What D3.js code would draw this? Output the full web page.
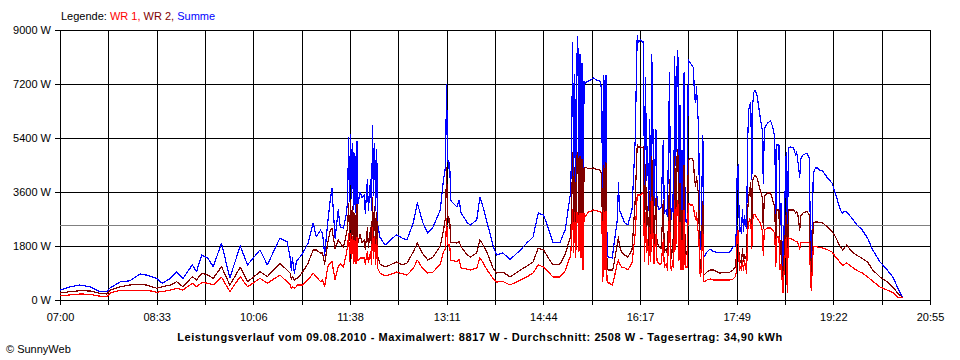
<!doctype html>
<html lang="de">
<head>
	<meta charset="UTF-8">
	<title>Leistungsverlauf 09.08.2010</title>
	<script src="https://d3js.org/d3.v7.min.js"></script>
	<style>
		body { margin: 0; background: #fff; }
		svg { display: block; font-family: 'Liberation Sans', Arial, sans-serif; font-size: 11px; }
	</style>
</head>
<body>
	<div id="chart"></div>
	<script>
		// minutes after 07:00, one entry per sample
		var minutes = [
			0, 10, 19, 29, 38, 45, 48, 58, 67, 77, 83, 93, 98, 106, 112, 118, 127, 131, 136, 142,
			147, 155, 163, 173, 180, 192, 199, 211, 218, 221, 222, 223, 225, 227, 228, 233, 238, 243, 246, 250,
			252, 254, 257, 259, 261, 264, 267, 269, 272, 275, 276, 277, 278, 279, 280, 281, 282, 283, 284, 285,
			286, 288, 290, 292, 293, 295, 296, 298, 299, 300, 301, 302, 303, 304, 305, 307, 312, 317, 323, 328,
			333, 339, 343, 348, 353, 358, 365, 368, 370, 371, 372, 373, 374, 375, 376, 381, 383, 385, 391, 394,
			400, 403, 405, 410, 416, 419, 425, 432, 442, 448, 454, 459, 464, 467, 473, 480, 485, 488, 490, 491,
			492, 493, 494, 495, 496, 497, 498, 499, 500, 501, 502, 503, 504, 507, 509, 512, 515, 518, 519, 520,
			521, 522, 523, 524, 525, 526, 527, 530, 531, 535, 536, 537, 539, 542, 545, 549, 552, 554, 555, 557,
			559, 560, 561, 562, 563, 564, 565, 566, 567, 568, 569, 570, 571, 572, 573, 575, 577, 579, 580, 582,
			583, 585, 586, 587, 588, 589, 590, 591, 592, 593, 594, 595, 596, 597, 598, 599, 600, 601, 602, 603,
			605, 607, 608, 609, 610, 611, 612, 613, 614, 615, 617, 618, 621, 624, 627, 633, 643, 646, 648, 649,
			650, 651, 652, 653, 654, 655, 656, 657, 658, 659, 660, 661, 662, 663, 664, 665, 666, 667, 669, 672,
			674, 675, 676, 679, 682, 684, 686, 687, 688, 690, 691, 692, 693, 694, 695, 697, 698, 699, 701, 704,
			706, 707, 708, 710, 711, 713, 717, 719, 721, 723, 725, 727, 729, 732, 736, 737, 741, 744, 747, 749,
			751, 752, 755, 760, 765, 768, 770, 775, 780, 787, 794, 800, 804, 809
		]

		// Summe (W)
		var summe = [
			330, 440, 500, 440, 280, 280, 400, 610, 640, 870, 830, 720, 560, 720, 940, 720, 1170, 940, 1500, 1390,
			1110, 1890, 740, 1800, 1170, 1670, 1170, 2060, 1940, 1390, 1000, 1400, 890, 1300, 1330, 1560, 1890, 2560, 2110, 2330,
			2230, 1500, 2600, 3230, 3720, 2060, 3000, 2430, 2400, 2900, 3300, 5400, 3300, 5500, 3400, 5200, 3000, 4900, 2900, 5300,
			3200, 3600, 3400, 3500, 2900, 4000, 3000, 4000, 3000, 5800, 3500, 5200, 3000, 5000, 2500, 2100, 1830, 2000, 2170, 2070,
			2000, 2570, 3230, 2600, 2230, 2430, 3000, 4000, 4430, 7170, 4770, 4400, 4570, 3330, 3270, 3100, 3330, 2900, 2570, 2500,
			2670, 3430, 3230, 2570, 1770, 1500, 1570, 1350, 1670, 1900, 2100, 2900, 2830, 2570, 1930, 1930, 2350, 3100, 3570, 4900,
			8570, 3800, 7500, 3500, 8000, 8770, 4000, 8200, 3200, 7900, 2300, 7300, 7230, 7300, 7330, 7400, 7330, 7300, 7200, 6900,
			1400, 7500, 2500, 7500, 1770, 1430, 1430, 1400, 1670, 2700, 3900, 3000, 2830, 2570, 2500, 3000, 5300, 8830, 8570, 8670,
			8600, 8600, 3500, 7400, 4000, 5100, 3000, 6000, 3300, 8170, 5900, 3100, 4500, 5670, 3230, 3000, 3100, 5330, 2900, 3000,
			2770, 7570, 2900, 2670, 3500, 2800, 8100, 4500, 7600, 8330, 3200, 6500, 2900, 5000, 2670, 7570, 2600, 2700, 2570, 8000,
			7900, 7800, 7730, 6770, 6570, 7100, 6230, 5770, 1770, 1670, 5500, 1430, 1600, 1700, 1620, 1570, 1600, 1770, 1800, 2230,
			4330, 4500, 2300, 2400, 2230, 3000, 2300, 2800, 2500, 2400, 5330, 6330, 6500, 6570, 4000, 6570, 6930, 7000, 6830, 6100,
			5670, 3900, 5700, 5900, 5970, 5770, 5430, 2770, 5170, 5170, 2500, 3230, 1770, 570, 2500, 4930, 570, 5070, 5100, 5080,
			4830, 4950, 4670, 4100, 4700, 4830, 4900, 4730, 900, 4230, 4400, 4400, 4330, 4300, 4100, 4050, 3900, 3570, 3230, 3000,
			2900, 2950, 2930, 2730, 2500, 2400, 2330, 2070, 1670, 1270, 1000, 730, 400, 70
		]

		// WR 2 (W)
		var wr2 = [
			230, 280, 310, 300, 220, 200, 330, 440, 500, 520, 500, 390, 440, 500, 610, 440, 780, 670, 890, 830,
			720, 1110, 500, 1090, 610, 940, 780, 1220, 1000, 890, 700, 780, 670, 720, 720, 940, 1220, 1670, 1670, 1560,
			1570, 1200, 1900, 2280, 2390, 1720, 2000, 1900, 1750, 2230, 2400, 3200, 2000, 3300, 2000, 3100, 1800, 2900, 1700, 3200,
			1900, 2200, 1900, 2000, 1700, 2400, 1750, 2400, 1700, 3400, 2000, 3100, 1700, 2900, 1450, 1200, 1100, 1170, 1270, 1170,
			1230, 1600, 1900, 1550, 1330, 1430, 1800, 2300, 2770, 4400, 2900, 2600, 2700, 1930, 1930, 1900, 1950, 1770, 1500, 1430,
			1570, 2000, 1900, 1570, 1030, 900, 930, 770, 1000, 1130, 1270, 1730, 1670, 1500, 1170, 1200, 1530, 1900, 2100, 2900,
			4900, 2200, 4400, 2100, 4800, 4930, 2300, 4800, 2000, 4700, 1400, 4400, 4430, 4380, 4380, 4400, 4350, 4330, 4300, 4100,
			800, 4500, 1500, 4570, 1100, 1000, 1000, 1000, 1070, 1900, 2100, 1800, 1600, 1500, 1430, 1670, 3300, 5170, 5100, 5100,
			5070, 5100, 2100, 4500, 2400, 3100, 1800, 3600, 2000, 4770, 3600, 1700, 2700, 3400, 1900, 1800, 1700, 3300, 1600, 1700,
			1500, 4000, 1500, 1400, 2000, 1600, 4770, 2700, 4700, 5000, 2000, 3900, 1700, 3000, 1500, 4500, 1500, 1600, 1500, 4670,
			4730, 4700, 4600, 4000, 3800, 4100, 3700, 3570, 1000, 1000, 3300, 830, 930, 1000, 1000, 900, 930, 1000, 1100, 1400,
			2100, 2200, 1200, 1300, 1200, 1700, 1300, 1500, 1400, 1500, 3000, 3430, 3700, 3930, 2300, 4000, 4100, 4150, 4070, 3670,
			3430, 2400, 3450, 3570, 3570, 3330, 3100, 1700, 3000, 3000, 1500, 2000, 1000, 330, 1500, 2900, 330, 3000, 3000, 3000,
			2900, 2950, 2900, 2330, 2800, 2900, 2950, 2850, 500, 2570, 2600, 2600, 2580, 2570, 2450, 2430, 2280, 2130, 1900, 1780,
			1670, 1700, 1830, 1620, 1480, 1430, 1380, 1270, 1000, 770, 600, 400, 230, 70
		]

		// WR 1 (W)
		var wr1 = [
			140, 170, 200, 190, 130, 110, 230, 330, 310, 330, 330, 260, 280, 330, 390, 330, 560, 440, 580, 560,
			500, 760, 280, 780, 440, 720, 560, 830, 610, 500, 400, 440, 390, 450, 500, 500, 670, 890, 780, 610,
			670, 450, 1100, 1220, 1280, 670, 1110, 1200, 1100, 1570, 1800, 2200, 1300, 2200, 1400, 2100, 1200, 2000, 1200, 2100,
			1300, 1400, 1400, 1400, 1200, 1600, 1250, 1600, 1200, 2400, 1400, 2100, 1200, 2000, 1050, 900, 800, 850, 930, 880,
			830, 1050, 1330, 1050, 900, 930, 1200, 1600, 1700, 2700, 1900, 1800, 1850, 1330, 1330, 1270, 1350, 1070, 1030, 1000,
			1070, 1400, 1300, 1000, 700, 600, 620, 500, 670, 770, 900, 1170, 1100, 1000, 770, 770, 980, 1300, 1450, 2000,
			3000, 1600, 2900, 1430, 2900, 2930, 1600, 2900, 1400, 2900, 1000, 2900, 2770, 2930, 2950, 3000, 2970, 2950, 2930, 2900,
			600, 3000, 1000, 2950, 650, 570, 570, 500, 600, 1230, 1330, 1200, 1100, 1070, 1000, 1230, 2200, 3500, 3500, 3500,
			3570, 3500, 1300, 2900, 1600, 2000, 1200, 2400, 1300, 3400, 2300, 1200, 1800, 2200, 1300, 1200, 1200, 2000, 1100, 1200,
			1000, 3000, 1100, 1000, 1300, 1100, 3330, 1700, 3000, 3300, 1300, 2600, 1000, 2000, 1000, 3000, 1100, 1100, 1070, 3230,
			3170, 3170, 3100, 2830, 2700, 2900, 2330, 2330, 900, 800, 2300, 600, 670, 700, 670, 670, 670, 700, 770, 900,
			2330, 2300, 1000, 1100, 1000, 1300, 1000, 1300, 1100, 900, 2300, 2570, 2700, 2670, 1700, 2700, 2850, 2850, 2730, 2570,
			2330, 1500, 2330, 2400, 2400, 2330, 2230, 1100, 2100, 2100, 1000, 1200, 700, 240, 1000, 2070, 240, 2070, 2050, 2000,
			1950, 1950, 1930, 1700, 1900, 1930, 1930, 1900, 330, 1770, 1780, 1770, 1750, 1730, 1680, 1670, 1600, 1450, 1330, 1230,
			1170, 1170, 1230, 1100, 980, 930, 900, 770, 630, 430, 330, 230, 100, 70
		]

		var yTicks = [0, 1800, 3600, 5400, 7200, 9000]
		var xLabels = ['07:00', '08:33', '10:06', '11:38', '13:11', '14:44', '16:17', '17:49', '19:22', '20:55']
		var spanMinutes = 835   // 07:00 .. 20:55
		var average = 2508
		var title = 'Leistungsverlauf vom 09.08.2010 - Maximalwert: 8817 W - Durchschnitt: 2508 W - Tagesertrag: 34,90 kWh'

		var w = 960
		var h = 360
		var plotLeft = 60, plotRight = 930, plotTop = 30, plotBottom = 300

		var svg = d3.select('#chart')
			.append('svg')
			.attr('width', w)
			.attr('height', h)
			.attr('shape-rendering', 'crispEdges')

		var x = d3.scaleLinear().domain([0, spanMinutes]).range([plotLeft, plotRight])
		var y = d3.scaleLinear().domain([0, 9000]).range([plotBottom, plotTop])

		// 18 grid columns, every second one labelled
		var gridMinutes = d3.range(19).map(function (i) { return i * spanMinutes / 18 })

		/* ---------------------------------- grid ---------------------------------- */
		svg.append('g')
			.selectAll('line')
			.data(yTicks)
			.join('line')
			.attr('x1', plotLeft)
			.attr('x2', plotRight)
			.attr('y1', function (d) { return Math.round(y(d)) + 0.5 })
			.attr('y2', function (d) { return Math.round(y(d)) + 0.5 })
			.attr('stroke', '#000')

		svg.append('g')
			.selectAll('line')
			.data(gridMinutes)
			.join('line')
			.attr('x1', function (d) { return Math.round(x(d)) + 0.5 })
			.attr('x2', function (d) { return Math.round(x(d)) + 0.5 })
			.attr('y1', plotTop)
			.attr('y2', plotBottom)
			.attr('stroke', '#000')

		// average line
		svg.append('line')
			.attr('x1', plotLeft)
			.attr('x2', plotRight)
			.attr('y1', Math.round(y(average)) + 0.5)
			.attr('y2', Math.round(y(average)) + 0.5)
			.attr('stroke', '#808080')

		/* ---------------------------------- axes ---------------------------------- */
		var xAxis = d3.axisBottom(x)
			.tickValues(gridMinutes)
			.tickSize(5)
			.tickPadding(8)
			.tickFormat(function (d, i) { return i % 2 === 0 ? xLabels[i / 2] : '' })

		svg.append('g')
			.attr('transform', 'translate(0,' + plotBottom + ')')
			.call(xAxis)

		var yAxis = d3.axisLeft(y)
			.tickValues(yTicks)
			.tickSize(5)
			.tickPadding(4)
			.tickFormat(function (d) { return d + ' W' })

		svg.append('g')
			.attr('transform', 'translate(' + plotLeft + ',0)')
			.call(yAxis)

		svg.selectAll('.domain').remove()
		svg.selectAll('.tick line').attr('stroke', '#000')
		svg.selectAll('.tick text')
			.attr('fill', '#000')
			.style('font-family', "'Liberation Sans', Arial, sans-serif")
			.style('font-size', '11px')

		/* ---------------------------------- lines --------------------------------- */
		function series(values) {
			return minutes.map(function (m, i) { return [m, values[i]] })
		}

		var line = d3.line()
			.x(function (d) { return x(d[0]) })
			.y(function (d) { return y(d[1]) })

		// drawn back to front: Summe, WR 2, WR 1
		var lines = [
			{ name: 'Summe', values: summe, color: '#0000ff' },
			{ name: 'WR 2', values: wr2, color: '#800000' },
			{ name: 'WR 1', values: wr1, color: '#ff0000' }
		]

		svg.append('g')
			.selectAll('path')
			.data(lines)
			.join('path')
			.attr('d', function (d) { return line(series(d.values)) })
			.attr('fill', 'none')
			.attr('stroke', function (d) { return d.color })
			.attr('stroke-width', 1.2)
			.attr('stroke-linejoin', 'round')

		/* ---------------------------------- texts --------------------------------- */
		var legend = svg.append('text')
			.attr('x', 61)
			.attr('y', 20)
		legend.append('tspan').attr('fill', '#000').text('Legende: ')
		legend.append('tspan').attr('fill', '#ff0000').text('WR 1, ')
		legend.append('tspan').attr('fill', '#800000').text('WR 2, ')
		legend.append('tspan').attr('fill', '#0000ff').text('Summe')

		svg.append('text')
			.attr('x', 480)
			.attr('y', 341)
			.attr('text-anchor', 'middle')
			.attr('font-weight', 'bold')
			.style('letter-spacing', '0.58px')
			.text(title)

		svg.append('text')
			.attr('x', 6)
			.attr('y', 353)
			.text('\u00a9 SunnyWeb')
	</script>
</body>
</html>
